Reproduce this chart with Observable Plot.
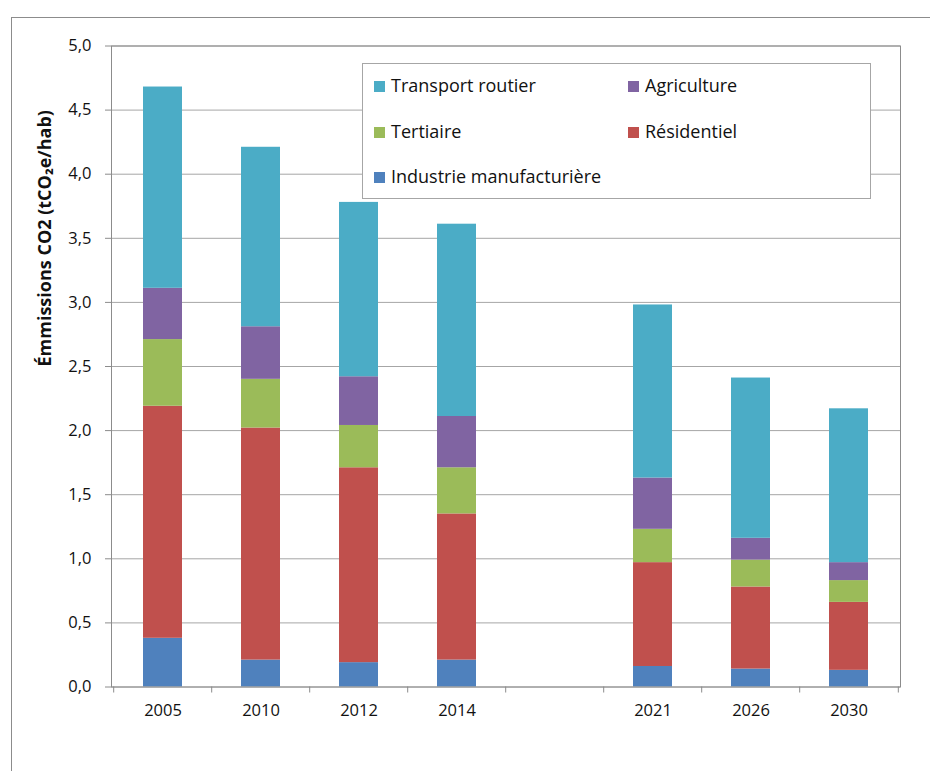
<!DOCTYPE html>
<html>
<head>
<meta charset="utf-8">
<script src="https://cdn.jsdelivr.net/npm/d3@7"></script>
<script src="https://cdn.jsdelivr.net/npm/@observablehq/plot@0.6"></script>
<style>
  html, body { margin: 0; padding: 0; width: 930px; height: 771px; overflow: hidden; background: #fff; }
  #frame { position: absolute; left: 10.5px; top: 16.5px; width: 1000px; height: 1000px; border: 1px solid #8c8c8c; }
  #chart { position: absolute; left: 0; top: 0; }
  #legend { position: absolute; left: 362px; top: 63px; width: 507px; height: 134px; border: 1px solid #a6a6a6; background: #fff;
            font-family: "Open Sans", sans-serif; font-size: 18px; color: #111; }
  .item { position: absolute; white-space: nowrap; line-height: 22px; }
  .sw { display: inline-block; width: 11px; height: 11px; margin-right: 6px; vertical-align: 0px; }
</style>
</head>
<body>
<div id="frame"></div>
<div id="chart"></div>
<div id="legend"></div>
<script>
// ---- data ----
const categories = ["2005", "2010", "2012", "2014", " ", "2021", "2026", "2030"];
const years = ["2005", "2010", "2012", "2014", "2021", "2026", "2030"];
const sectors = ["Industrie manufacturière", "Résidentiel", "Tertiaire", "Agriculture", "Transport routier"];
const industrie   = [0.38, 0.21, 0.19, 0.21, 0.16, 0.14, 0.13];
const residentiel = [1.81, 1.81, 1.52, 1.14, 0.81, 0.64, 0.53];
const tertiaire   = [0.52, 0.38, 0.33, 0.36, 0.26, 0.21, 0.17];
const agriculture = [0.40, 0.41, 0.38, 0.40, 0.40, 0.17, 0.14];
const transport   = [1.57, 1.40, 1.36, 1.50, 1.35, 1.25, 1.20];
const colors = ["#4F81BD", "#C0504D", "#9BBB59", "#8064A2", "#4BACC6"];
const yTicks = [0, 0.5, 1, 1.5, 2, 2.5, 3, 3.5, 4, 4.5, 5];
const yTitle = "Émmissions CO2 (tCO₂e/hab)";
const legendOrder = ["Transport routier", "Agriculture", "Tertiaire", "Résidentiel", "Industrie manufacturière"];

const series = [industrie, residentiel, tertiaire, agriculture, transport];
const data = [];
years.forEach((y, i) => sectors.forEach((s, j) => data.push({year: y, sector: s, value: series[j][i]})));

// ---- layout ----
const W = 930, H = 771, mL = 111, mR = 30, mT = 45.5, mB = 84.5;
const step = (W - mL - mR) / categories.length;
const fmt = d => d.toFixed(1).replace(".", ",");

const chart = Plot.plot({
  width: W, height: H,
  marginLeft: mL, marginRight: mR, marginTop: mT, marginBottom: mB,
  style: {fontFamily: "Open Sans, sans-serif", fontSize: "16px", color: "#111", background: "transparent", overflow: "visible"},
  x: {domain: categories, paddingInner: 0.6, paddingOuter: 0.3, label: null},
  y: {domain: [0, 5], label: null},
  color: {domain: sectors, range: colors},
  marks: [
    Plot.gridY(yTicks, {stroke: "#a6a6a6", strokeOpacity: 1}),
    Plot.barY(data, {x: "year", y: "value", fill: "sector", order: sectors}),
    Plot.frame({stroke: "#8c8c8c"}),
    Plot.ruleX(categories, {x: d => d, dx: -step / 2, y1: 0, y2: -0.047, stroke: "#8c8c8c"}),
    Plot.ruleX([categories[categories.length - 1]], {x: d => d, dx: step / 2, y1: 0, y2: -0.047, stroke: "#8c8c8c"}),
    Plot.axisY(yTicks, {tickFormat: fmt, tickSize: 6, tickPadding: 14, stroke: "#8c8c8c", label: null, fontSize: 16.5}),
    Plot.axisX({tickSize: 0, tickPadding: 17.5, label: null, fontSize: 16.5}),
    Plot.text([yTitle], {frameAnchor: "left", dx: -66, rotate: -90, fontWeight: "bold", fontSize: 18, fill: "#111"})
  ]
});
document.getElementById("chart").appendChild(chart);

// ---- legend ----
const leg = document.getElementById("legend");
legendOrder.forEach((name, i) => {
  const col = i % 2, row = Math.floor(i / 2);
  const el = document.createElement("div");
  el.className = "item";
  el.style.left = (col === 0 ? 11 : 265) + "px";
  el.style.top = (10 + row * 45.5) + "px";
  const sw = document.createElement("span");
  sw.className = "sw";
  sw.style.background = colors[sectors.indexOf(name)];
  el.appendChild(sw);
  el.appendChild(document.createTextNode(name));
  leg.appendChild(el);
});
</script>
</body>
</html>
